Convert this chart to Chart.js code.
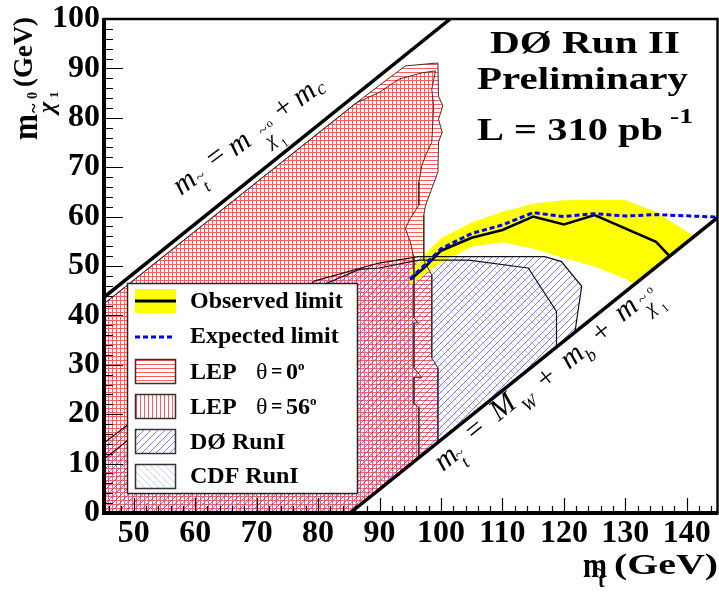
<!DOCTYPE html>
<html>
<head>
<meta charset="utf-8">
<script src="https://cdn.jsdelivr.net/npm/chart.js@4.4.0/dist/chart.umd.min.js"></script>
<style>
  html, body { margin: 0; padding: 0; background: #fff; }
  canvas { display: block; }
</style>
</head>
<body>
<canvas id="c" width="719" height="594"></canvas>
<script>
// ---- axis ticks ----
const X_TICKS = [50, 60, 70, 80, 90, 100, 110, 120, 130, 140];
const Y_TICKS = [0, 10, 20, 30, 40, 50, 60, 70, 80, 90, 100];

// ---- DØ Run II limits (stop mass vs neutralino mass, GeV) ----
const OBS_X = [95, 97.5, 100, 105, 110, 115, 120, 125, 135, 137.2];
const OBS_Y = [47.2, 49.9, 53.1, 55.7, 57.3, 60.0, 58.4, 60.3, 54.9, 52.0];

const EXP_X = [95, 97.5, 100, 105, 110, 115, 120, 125, 130, 135, 145];
const EXP_Y = [47.4, 50.4, 53.5, 56.6, 58.3, 60.8, 60.0, 60.6, 60.1, 60.4, 59.9];

// uncertainty band: upper edge left to right, then lower edge right to left
const BAND_X = [95, 97.5, 100, 105, 110, 115, 120, 125, 130, 135, 141.2,
                131.5, 130, 125, 120, 115, 110, 105, 100, 97.5, 95];
const BAND_Y = [48.8, 52.5, 55.6, 58.8, 61.0, 62.6, 63.3, 63.4, 63.3, 61.0, 56.0,
                46.3, 47.4, 49.9, 51.6, 53.5, 54.8, 53.9, 50.6, 48.5, 46.0];

// ---- LEP exclusions ----
const LEP0_X = [45, 86.2, 89.9, 94.2, 99.5, 99.6, 100.3, 99.6, 100.2, 99.6, 99.5, 98.3,
                97.5, 97.2, 97.2, 98.5, 98.5, 99.5, 99.5, 85.2, 45];
const LEP0_Y = [42.2, 83.0, 86.5, 90.5, 91.1, 84.4, 82.4, 79.7, 77.1, 75.1, 69.0, 65.0,
                62.3, 60.3, 51.2, 48.2, 31.4, 29.4, 14.3, 0, 0];

const LEP56_X = [45, 86.2, 89.9, 93.1, 96.9, 99.1, 98.5, 98.8, 98.5, 97.7, 96.9, 96.4, 96.4,
                 95.0, 94.2, 95.0, 95.6, 95.6, 96.3, 95.6, 95.6, 96.9, 95.6, 95.6, 96.4, 96.4, 85.2, 45];
const LEP56_Y = [42.2, 83.0, 85.1, 87.8, 89.1, 89.5, 85.8, 82.4, 75.0, 73.0, 70.4, 67.0, 62.3,
                 59.6, 57.6, 54.9, 51.6, 39.5, 38.5, 38.5, 29.4, 27.4, 27.4, 22.1, 21.4, 11.2, 0, 0];

// ---- Tevatron Run I exclusions ----
const D0I_X = [45, 79.5, 89.9, 96.4, 116.9, 119.6, 122.9, 121.8, 85.2, 45];
const D0I_Y = [14.0, 47.0, 50.6, 51.9, 51.9, 50.9, 45.9, 36.6, 0, 0];

const CDFI_X = [45, 80.5, 86.7, 89.9, 96.4, 104.5, 114.2, 118.8, 118.8, 85.2, 45];
const CDFI_Y = [10.7, 46.0, 49.3, 49.6, 51.2, 51.2, 49.6, 40.8, 33.6, 0, 0];

// ---- kinematic boundaries ----
const KIN_C_X = [45, 101.5];   // m_stop = m_chi + m_c
const KIN_C_Y = [43.5, 100];
const KIN_W_X = [85.2, 145];   // m_stop = M_W + m_b + m_chi
const KIN_W_Y = [0, 59.8];

// ---- fill patterns ----
function makePattern(w, h, draw) {
  const c = document.createElement('canvas');
  c.width = w; c.height = h;
  const g = c.getContext('2d');
  draw(g, w, h);
  return g.createPattern(c, 'repeat');
}
const RED = '#ff5c5c';
const hLines = makePattern(4, 4, g => { g.fillStyle = RED; g.fillRect(0, 0, 4, 1); });
const vLines = makePattern(4, 4, g => { g.fillStyle = RED; g.fillRect(0, 0, 1, 4); });
// diagonal hatches, stroked with anti-aliased lines across the tile seams
function hatch(size, color, width, forward) {
  return makePattern(size, size, g => {
    g.strokeStyle = color; g.lineWidth = width;
    g.beginPath();
    for (let k = -size; k <= 2 * size; k += size) {
      if (forward) { g.moveTo(k - size, size); g.lineTo(k, 0); }
      else { g.moveTo(k - size, 0); g.lineTo(k, size); }
    }
    g.stroke();
  });
}
const fwdHatch = hatch(7, 'rgba(80,80,255,0.75)', 1, true);
const backHatch = hatch(7, 'rgba(120,120,255,0.35)', 1, false);

const pts = (xs, ys) => xs.map((v, i) => ({ x: v, y: ys[i] }));
const area = (xs, ys, bg, order) => ({
  data: pts(xs, ys), showLine: true, fill: 'shape', backgroundColor: bg,
  borderWidth: 0, borderColor: 'transparent', pointRadius: 0, tension: 0, order
});
const curve = (xs, ys, color, width, order, dash) => ({
  data: pts(xs, ys), showLine: true, fill: false, borderColor: color,
  borderWidth: width, borderDash: dash || [], pointRadius: 0, tension: 0, order
});

const SERIF = '"Liberation Serif", "Times New Roman", serif';
const IT30 = 'italic 30px ' + SERIF, IT20 = 'italic 20px ' + SERIF, IT18 = 'italic 18px ' + SERIF;
const R30 = '30px ' + SERIF, R16 = '16px ' + SERIF, R12 = '12px ' + SERIF;

function fitText(ctx, text, font, left, right, baseline) {
  ctx.font = font;
  const w = ctx.measureText(text).width;
  ctx.save();
  ctx.translate(left, baseline);
  ctx.scale((right - left) / w, 1);
  ctx.fillText(text, 0, 0);
  ctx.restore();
}
function drawRuns(ctx, ox, oy, deg, runs) {
  ctx.save();
  ctx.translate(ox, oy);
  ctx.rotate(-deg * Math.PI / 180);
  for (const [t, f, u, v] of runs) { ctx.font = f; ctx.fillText(t, u, v); }
  ctx.restore();
}

const decor = {
  id: 'decor',
  afterDatasetsDraw(chart) {
    const { ctx, chartArea: a } = chart;
    const sx = chart.scales.x, sy = chart.scales.y;
    ctx.save();
    ctx.textAlign = 'left';
    ctx.textBaseline = 'alphabetic';
    ctx.fillStyle = '#000';

    // inward tick marks
    ctx.strokeStyle = '#000'; ctx.lineWidth = 1.2;
    ctx.beginPath();
    for (let v = 0; v <= 100; v += 2) {
      const p = Math.round(sy.getPixelForValue(v)) + 0.5;
      ctx.moveTo(a.left, p); ctx.lineTo(a.left + (v % 10 === 0 ? 20 : 10), p);
    }
    for (let v = 46; v <= 144; v += 2) {
      const p = Math.round(sx.getPixelForValue(v)) + 0.5;
      ctx.moveTo(p, a.bottom); ctx.lineTo(p, a.bottom - (v % 10 === 0 ? 15 : 7));
    }
    ctx.stroke();

    // frame
    ctx.lineWidth = 2.4;
    ctx.beginPath();
    ctx.moveTo(a.left, a.top); ctx.lineTo(a.right, a.top); ctx.lineTo(a.right, a.bottom);
    ctx.stroke();
    ctx.lineWidth = 4;
    ctx.beginPath();
    ctx.moveTo(a.left + 1, a.top - 1); ctx.lineTo(a.left + 1, a.bottom); ctx.lineTo(a.right + 1, a.bottom);
    ctx.stroke();

    // legend
    ctx.fillStyle = '#fff';
    ctx.fillRect(127, 283, 231, 211);
    ctx.strokeStyle = '#222'; ctx.lineWidth = 1.5;
    ctx.strokeRect(127.5, 283.5, 230, 210);

    ctx.fillStyle = '#ffff00'; ctx.fillRect(135, 289, 41, 24);
    ctx.strokeStyle = '#000'; ctx.lineWidth = 3;
    ctx.beginPath(); ctx.moveTo(135, 301); ctx.lineTo(176, 301); ctx.stroke();

    ctx.strokeStyle = '#0000ff'; ctx.lineWidth = 3; ctx.setLineDash([5, 3]);
    ctx.beginPath(); ctx.moveTo(135, 337); ctx.lineTo(174, 337); ctx.stroke();
    ctx.setLineDash([]);

    const boxes = [[359, hLines], [394, vLines], [429, fwdHatch], [464, backHatch]];
    for (const [top, pat] of boxes) {
      ctx.fillStyle = pat; ctx.fillRect(135, top, 41, 24);
      ctx.strokeStyle = '#333'; ctx.lineWidth = 1.5;
      ctx.strokeRect(135.5, top + 0.5, 40, 24);
    }

    ctx.fillStyle = '#000';
    ctx.font = 'bold 24px ' + SERIF;
    ctx.fillText('Observed limit', 190, 308);
    ctx.fillText('Expected limit', 190, 343);
    ctx.fillText('LEP', 190, 379);
    ctx.fillText('LEP', 190, 414);
    ctx.fillText('DØ RunI', 190, 449);
    ctx.fillText('CDF RunI', 190, 483);
    for (const [base, deg] of [[379, '0'], [414, '56']]) {
      ctx.font = '24px ' + SERIF; ctx.fillText('θ', 256, base);
      ctx.font = 'bold 20px ' + SERIF; ctx.fillText('=', 271, base - 1);
      ctx.font = 'bold 24px ' + SERIF; ctx.fillText(deg, 286, base);
      const w = ctx.measureText(deg).width;
      ctx.font = 'bold 13px ' + SERIF; ctx.fillText('o', 286 + w, base - 9);
    }

    // experiment label
    const B32 = 'bold 32px ' + SERIF;
    fitText(ctx, 'DØ Run II', B32, 490, 680, 53);
    fitText(ctx, 'Preliminary', B32, 477, 688, 89);
    fitText(ctx, 'L = 310 pb', B32, 477, 663, 140);
    fitText(ctx, '-1', 'bold 20px ' + SERIF, 670, 693, 123);

    // x axis title
    fitText(ctx, 'm', 'bold 36px ' + SERIF, 583, 607, 577);
    ctx.font = 'bold 20px ' + SERIF; ctx.fillText('t', 598, 587);
    ctx.font = 'bold 18px ' + SERIF; ctx.fillText('~', 595, 576);
    fitText(ctx, '(GeV)', 'bold 30px ' + SERIF, 614, 718, 574);

    // y axis title
    ctx.save();
    ctx.translate(37, 140);
    ctx.rotate(-Math.PI / 2);
    fitText(ctx, 'm', 'bold 36px ' + SERIF, 0, 26, 0);
    ctx.font = 'italic bold 24px ' + SERIF; ctx.fillText('χ', 27, 17);
    ctx.font = 'bold 18px ' + SERIF; ctx.fillText('~', 27, 3);
    ctx.font = 'bold 14px ' + SERIF; ctx.fillText('0', 41, 0);
    ctx.font = 'bold 13px ' + SERIF; ctx.fillText('1', 42, 21);
    fitText(ctx, '(GeV)', 'bold 28px ' + SERIF, 53, 123, -5);
    ctx.restore();

    // kinematic boundary labels
    drawRuns(ctx, 181, 196, 36.5, [
      ['m', IT30, 0, 0], ['t', IT18, 24, 13], ['~', R16, 23, 1],
      ['=', R30, 43, -2], ['m', IT30, 67, 1],
      ['χ', IT20, 101, 14], ['~', R16, 101, 1], ['o', R12, 111, -2], ['1', R12, 112, 23],
      ['+', R30, 126, -1], ['m', IT30, 149, 0], ['c', IT20, 172, 3]
    ]);
    drawRuns(ctx, 443, 472, 39, [
      ['m', IT30, 0, 0], ['t', IT18, 21, 12], ['~', R16, 20, 1],
      ['=', R30, 43, -4], ['M', IT30, 75, -4], ['W', IT18, 103, 7],
      ['+', R30, 131, 1], ['m', IT30, 162, 0], ['b', IT18, 184, 8],
      ['+', R30, 203, 0], ['m', IT30, 234, -3],
      ['χ', IT20, 260, 9], ['~', R16, 260, -4], ['o', R12, 272, -8], ['1', R12, 273, 16]
    ]);
    ctx.restore();
  }
};

const tickFont = { family: SERIF, size: 32, weight: 'bold', lineHeight: 1 };

new Chart(document.getElementById('c'), {
  type: 'scatter',
  data: {
    datasets: [
      area(LEP0_X, LEP0_Y, hLines, 100),
      area(LEP56_X, LEP56_Y, vLines, 95),
      area(D0I_X, D0I_Y, fwdHatch, 90),
      area(CDFI_X, CDFI_Y, backHatch, 85),
      area(BAND_X, BAND_Y, '#ffff00', 80),
      curve(LEP0_X, LEP0_Y, '#333', 1, 70),
      curve(LEP56_X, LEP56_Y, '#333', 1, 69),
      curve(D0I_X, D0I_Y, '#111', 1.2, 68),
      curve(CDFI_X, CDFI_Y, '#111', 1.2, 67),
      curve(OBS_X, OBS_Y, '#000', 2.6, 50),
      curve(EXP_X, EXP_Y, '#0000ff', 3, 45, [5, 3]),
      curve(KIN_C_X, KIN_C_Y, '#000', 3.5, 30),
      curve(KIN_W_X, KIN_W_Y, '#000', 3.5, 29)
    ]
  },
  options: {
    responsive: false,
    animation: false,
    devicePixelRatio: 1,
    events: [],
    layout: { padding: { top: 16, right: 1.5, left: 0, bottom: 0 } },
    plugins: { legend: { display: false }, tooltip: { enabled: false } },
    scales: {
      x: {
        type: 'linear', min: 45, max: 145,
        afterBuildTicks: s => { s.ticks = X_TICKS.map(v => ({ value: v })); },
        afterFit: s => { s.height = 81; },
        ticks: { font: tickFont, color: '#000', padding: 5, maxRotation: 0, autoSkip: false },
        grid: { display: false, drawTicks: false },
        border: { display: false }
      },
      y: {
        type: 'linear', min: 0, max: 100,
        afterBuildTicks: s => { s.ticks = Y_TICKS.map(v => ({ value: v })); },
        afterFit: s => { s.width = 103; },
        ticks: { font: tickFont, color: '#000', padding: 3, autoSkip: false },
        grid: { display: false, drawTicks: false },
        border: { display: false }
      }
    }
  },
  plugins: [decor]
});
</script>
</body>
</html>
